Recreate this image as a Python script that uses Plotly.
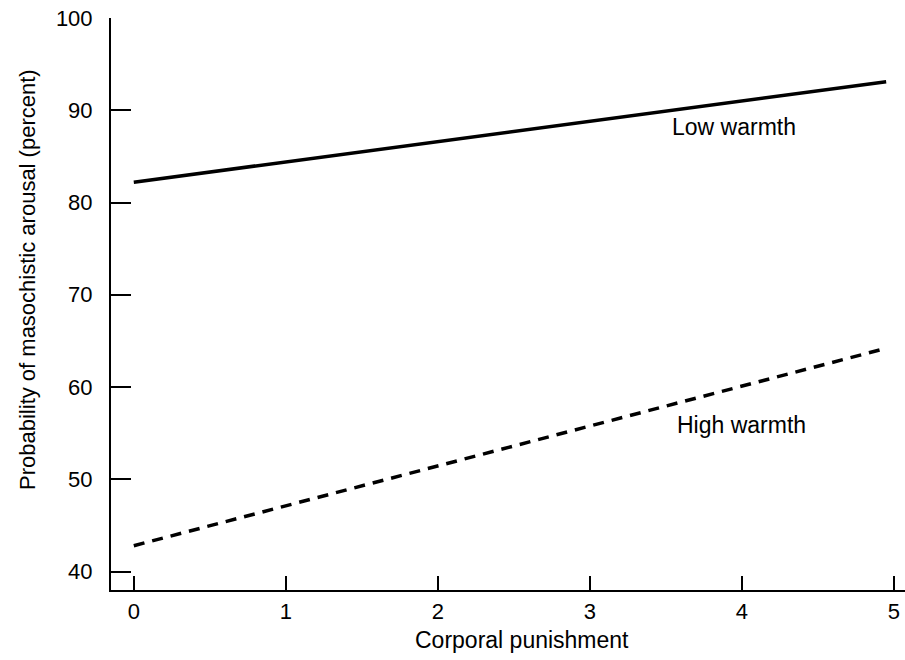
import plotly.graph_objects as go

# Data
corporal_punishment = [0, 4.95]
low_warmth = [82.2, 93.1]
high_warmth = [42.8, 64.2]

x_ticks = [0, 1, 2, 3, 4, 5]
y_ticks = [40, 50, 60, 70, 80, 90, 100]

label_names = ["Low warmth", "High warmth"]
label_x = [3.95, 4.0]
label_y = [88.2, 55.9]

x_title = "Corporal punishment"
y_title = "Probability of masochistic arousal (percent)"

FONT = "Liberation Sans, Arial, Helvetica, sans-serif"

fig = go.Figure()
fig.add_trace(go.Scatter(
    x=corporal_punishment, y=low_warmth, mode="lines",
    line=dict(color="black", width=3.5), name="Low warmth", showlegend=False,
))
fig.add_trace(go.Scatter(
    x=corporal_punishment, y=high_warmth, mode="lines",
    line=dict(color="black", width=3.5, dash="11px,8px"), name="High warmth", showlegend=False,
))

for name, lx, ly in zip(label_names, label_x, label_y):
    fig.add_annotation(x=lx, y=ly, text=name, showarrow=False,
                       font=dict(family=FONT, size=23, color="black"))

# axis titles placed as annotations for precise positioning
fig.add_annotation(xref="paper", yref="paper", x=0.5176, y=0, yshift=-50,
                   xanchor="center", yanchor="middle", text=x_title, showarrow=False,
                   font=dict(family=FONT, size=23, color="black"))
fig.add_annotation(xref="paper", yref="paper", x=0, xshift=-83, y=0.542,
                   xanchor="center", yanchor="middle", text=y_title, textangle=-90,
                   showarrow=False, font=dict(family=FONT, size=22, color="black"))

fig.update_layout(
    width=905, height=660,
    margin=dict(l=111, r=0, t=18, b=70),
    paper_bgcolor="white", plot_bgcolor="white",
    font=dict(family=FONT, color="black"),
    xaxis=dict(
        range=[-0.15, 5.074], tickvals=x_ticks, ticktext=[str(v) for v in x_ticks],
        showline=True, linecolor="black", linewidth=2, mirror=False,
        ticks="inside", ticklen=14, tickwidth=2, tickcolor="black",
        showgrid=False, zeroline=False, ticklabelstandoff=1,
        tickfont=dict(size=22, family=FONT, color="black"),
    ),
    yaxis=dict(
        range=[38.0, 100], tickvals=y_ticks, ticktext=[str(v) for v in y_ticks],
        showline=True, linecolor="black", linewidth=2, mirror=False,
        ticks="inside", ticklen=20, tickwidth=2, tickcolor="black",
        showgrid=False, zeroline=False, ticklabelstandoff=12,
        tickfont=dict(size=22, family=FONT, color="black"),
    ),
)

fig.write_html(
    "out.html",
    config={"displayModeBar": False},
    post_script="document.body.style.margin='0';document.body.style.overflow='hidden';",
)
